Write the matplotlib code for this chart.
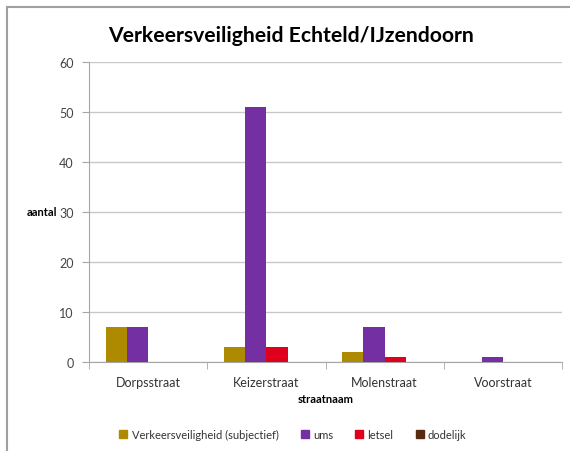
import matplotlib.pyplot as plt
from matplotlib.lines import Line2D
from matplotlib.patches import Patch
import numpy as np

plt.rcParams['font.family'] = ['Lato', 'DejaVu Sans']

streets = ['Dorpsstraat', 'Keizerstraat', 'Molenstraat', 'Voorstraat']
series = ['Verkeersveiligheid (subjectief)', 'ums', 'letsel', 'dodelijk']
subjectief = [7, 3, 2, 0]
ums = [7, 51, 7, 1]
letsel = [0, 3, 1, 0]
dodelijk = [0, 0, 0, 0]
colors = ['#AE8A00', '#7430A2', '#E0001E', '#5A2A10']

fig = plt.figure(figsize=(5.7, 4.52), dpi=100)
ax = fig.add_axes([89/570, 1-363/452, (562-89)/570, 300/452])

x = np.arange(len(streets))
w = 0.18
for i, vals in enumerate([subjectief, ums, letsel, dodelijk]):
    ax.bar(x + (i - 1.5) * w, vals, width=w, color=colors[i], label=series[i], zorder=3)

ax.set_xlim(-0.5, 3.5)
ax.set_ylim(0, 60)
ax.set_yticks(range(0, 61, 10))
ax.set_xticks(x)
ax.set_xticklabels(streets)
ax.set_xticks(np.arange(-0.5, 4, 1), minor=True)
ax.tick_params(axis='x', which='major', length=0, pad=10, labelsize=9, labelcolor='#333333')
ax.tick_params(axis='x', which='minor', length=5, color='#a6a6a6', direction='out')
ax.tick_params(axis='y', length=5, color='#a6a6a6', labelsize=9, labelcolor='#444444', pad=6)
ax.grid(axis='y', color='#c8c8c8', linewidth=1, zorder=0)
for s in ['top', 'right']:
    ax.spines[s].set_visible(False)
ax.spines['left'].set_color('#a6a6a6')
ax.spines['bottom'].set_color('#a6a6a6')

ax.set_xlabel('straatnaam', fontsize=8, fontweight='bold', labelpad=4)
fig.text(57/570, 1-213/452, 'aantal', fontsize=8, fontweight='bold', ha='right', va='center')
fig.text(291/570, 1-36/452, 'Verkeersveiligheid Echteld/IJzendoorn', fontsize=15.2,
         fontweight='bold', ha='center', va='center')

handles = [Patch(color=c) for c in colors]
fig.legend(handles, series, loc='center', bbox_to_anchor=(293/570, 1-435/452), ncol=4,
           frameon=False, fontsize=8, handlelength=0.7, handleheight=0.7,
           handletextpad=0.4, columnspacing=2.0, labelcolor='#333333')

# outer frame
fig.add_artist(Line2D([7/570, 7/570], [0, 1-8/452], color='#a0a0a0', lw=1.5))
fig.add_artist(Line2D([7/570, 1], [1-8/452, 1-8/452], color='#a0a0a0', lw=1.5))

fig.savefig('out.png', dpi=100)
